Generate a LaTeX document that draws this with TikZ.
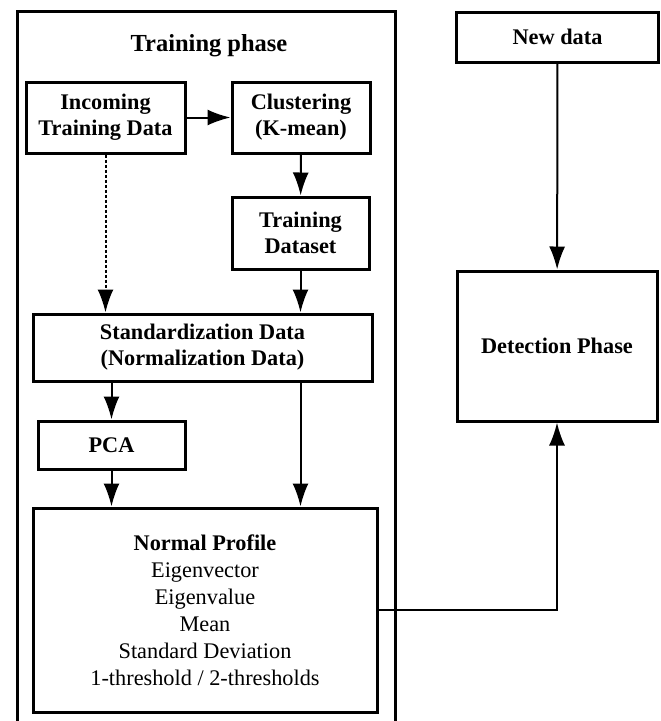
\documentclass[tikz,border=0pt]{standalone}
\usepackage{fontspec}
\setmainfont{Liberation Serif}
\usetikzlibrary{arrows.meta}

\begin{document}
\begin{tikzpicture}[x=1pt,y=-1pt,
    box/.style={draw, line width=3pt, align=center, inner sep=2pt,
        font=\fontsize{22.3}{26}\selectfont\bfseries},
    flow/.style={line width=2pt, -{Latex[length=23pt,width=16pt]}},
    frame/.style={line width=3pt}]
    \useasboundingbox (0,0) rectangle (661,721);

    \draw[frame] (17,730) |- (395,11) -- (395,730);
    \node[font=\fontsize{24.5}{28}\selectfont\bfseries] (title) at (209,46) {Training phase};

    \node[box, minimum width=159, minimum height=71] (incoming) at (105.5,117.5) {Incoming\\Training Data};
    \node[box, minimum width=138, minimum height=71] (cluster) at (301,117.5) {Clustering\\(K-mean)};
    \node[box, minimum width=137, minimum height=72] (trainset) at (300.5,233) {Training\\Dataset};
    \node[box, minimum width=339, minimum height=67] (stdz) at (202.5,347.5) {Standardization Data\\(Normalization Data)};
    \node[box, minimum width=147, minimum height=48] (pca) at (111.5,445) {PCA};
    \node[box, minimum width=344, minimum height=204, font=\fontsize{22.3}{27}\selectfont] (profile) at (205,610)
        {\textbf{Normal Profile}\\Eigenvector\\Eigenvalue\\Mean\\Standard Deviation\\1-threshold / 2-thresholds};
    \node[box, minimum width=202, minimum height=50] (newdata) at (557.5,37) {New data};
    \node[box, minimum width=200, minimum height=150] (detect) at (557,346) {Detection Phase};

    \draw[flow] (incoming) -- (cluster);
    \draw[flow, dash pattern=on 3pt off 2pt] (incoming.south) -- (incoming.south |- stdz.north);
    \draw[flow] (cluster) -- (trainset);
    \draw[flow] (trainset.south) -- (trainset.south |- stdz.north);
    \draw[flow] (pca.north |- stdz.south) -- (pca.north);
    \draw[flow] (pca.south) -- (pca.south |- profile.north);
    \draw[flow] (trainset.south |- stdz.south) -- (trainset.south |- profile.north);
    \draw[flow] (newdata) -- (detect);
    \draw[flow] (profile.east) -| (detect.south);
\end{tikzpicture}
\end{document}
